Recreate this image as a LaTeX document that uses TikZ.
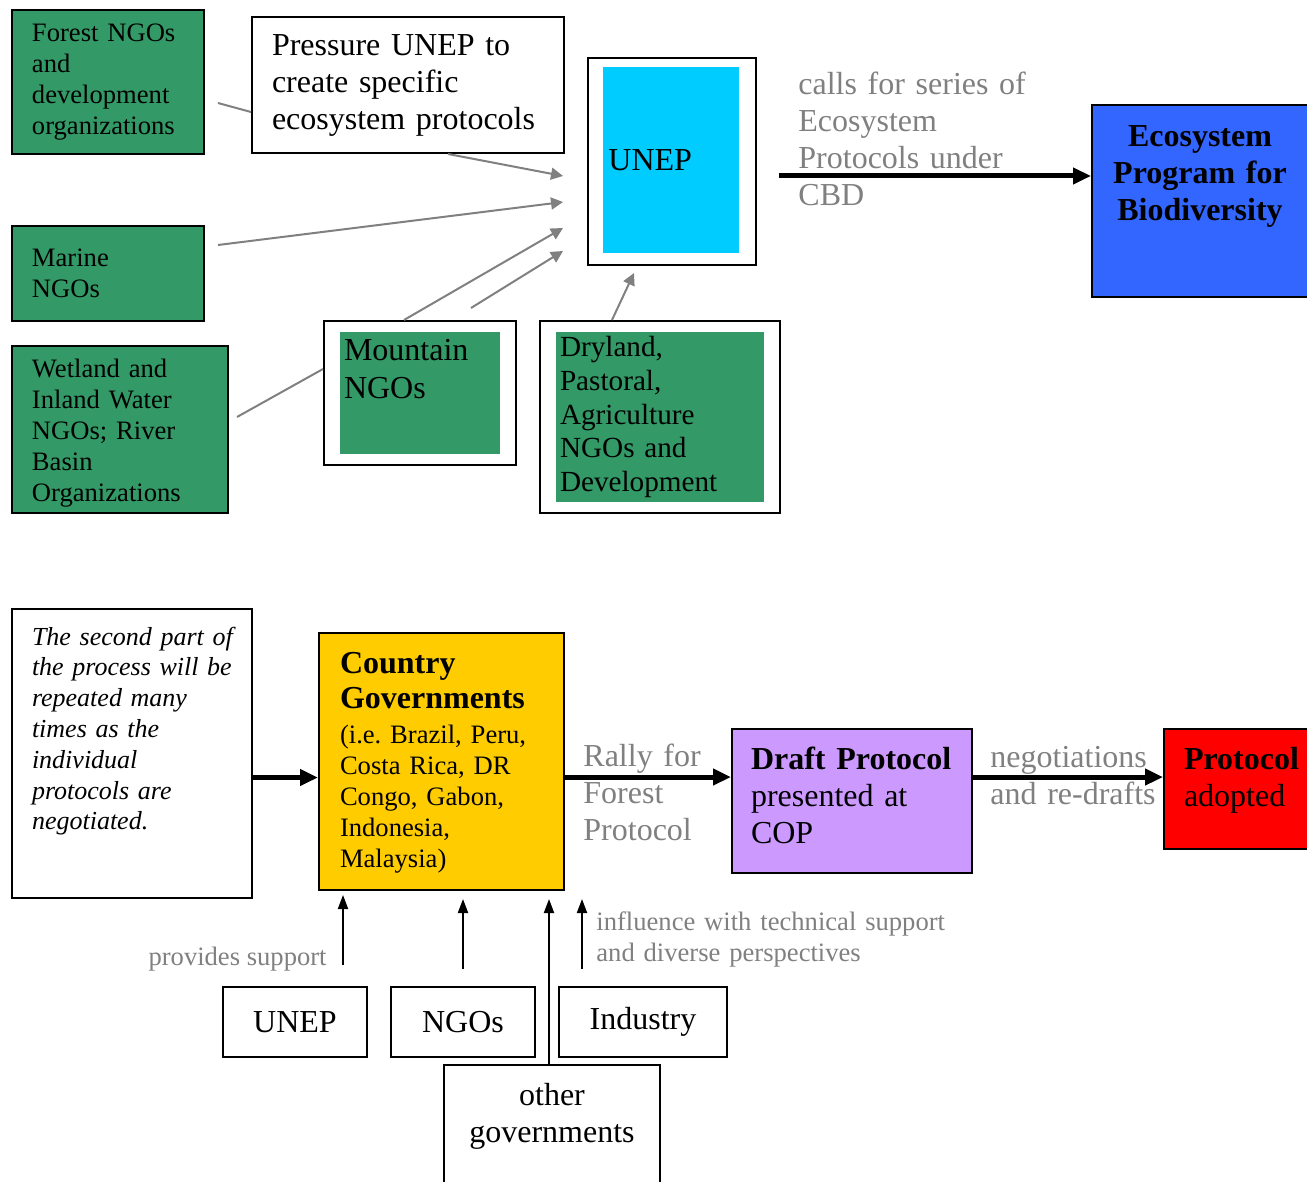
\documentclass[tikz,border=0pt]{standalone}
\usepackage{fontspec}
\setmainfont{Liberation Serif}
\frenchspacing
\usetikzlibrary{arrows.meta,positioning}
\definecolor{ngogreen}{HTML}{339966}
\definecolor{unepcyan}{HTML}{00CCFF}
\definecolor{progblue}{HTML}{3366FF}
\definecolor{govyellow}{HTML}{FFCC00}
\definecolor{draftviolet}{HTML}{CC99FF}
\definecolor{adoptedred}{HTML}{FF0000}
\definecolor{notegray}{HTML}{808080}
\newcommand{\bigsize}{\fontsize{16}{18.5}\selectfont}
\newcommand{\smallsize}{\fontsize{13.3}{15.5}\selectfont}
\tikzset{
  every node/.style={
    font=\bigsize
  },
  box/.style={
    draw=black,
    line width=1pt,
    anchor=north west,
    align=left,
    inner xsep=10pt,
    inner ysep=0pt
  },
  plain/.style={
    box,
    fill=white
  },
  ngo/.style={
    box,
    fill=ngogreen,
    font=\smallsize
  },
  topset/.style 2 args={
    inner ysep=#1,
    text height=11pt,
    text depth=#2
  },
  comment/.style={
    anchor=north west,
    inner sep=0pt,
    align=left,
    text=notegray,
    text height=11pt
  },
  flow/.style={
    draw=black,
    line width=2.5pt,
    -{Triangle[length=9pt,width=8pt]}
  },
  grayline/.style={
    draw=notegray,
    line width=1pt
  },
  grayarrow/.style={
    grayline,
    -{Triangle[length=6pt,width=6pt]}
  },
  support/.style={
    draw=black,
    line width=1pt,
    -{Triangle[length=7pt,width=5pt]}
  }
}
\begin{document}
\begin{tikzpicture}[x=0.5pt,y=-0.5pt]
\useasboundingbox (0,0) rectangle (1307,1182);

\node [ngo, text width=76pt, minimum height=72pt] (forest) at (11,9) {Forest NGOs\\and\\development\\organizations};
\node [plain, text width=136pt, minimum height=68pt] (pressure) at (251,16) {Pressure UNEP to\\create specific\\ecosystem protocols};
\node [plain, minimum width=84pt, minimum height=103.5pt] (unepframe) at (587,57) {};
\node [anchor=north west, fill=unepcyan, align=left, inner xsep=2.5pt, inner ysep=0pt,
  text width=63pt, minimum height=93pt] (unep) at (603,67) {UNEP};
\node [ngo, text width=76pt, minimum height=47.5pt] (marine) at (11,225) {Marine\\NGOs};
\node [ngo, text width=88pt, topset={5pt}{62.5pt}] (wetland) at (11,345) {Wetland and\\Inland Water\\NGOs; River\\Basin\\Organizations};
\node [plain, minimum width=96pt, minimum height=72pt] (mountainframe) at (323,320) {};
\node [ngo, draw=none, font=\bigsize, inner xsep=2pt, text width=76pt, topset={3.5pt}{43pt}] (mountain) at (339,331) {Mountain\\NGOs};
\node [plain, minimum width=120pt, minimum height=96pt] (drylandframe) at (539,320) {};
\node [ngo, draw=none, font=\fontsize{14.6}{16.85}\selectfont, inner xsep=2pt, text width=100pt,
  minimum height=85pt] (dryland) at (555,331) {Dryland,\\Pastoral,\\Agriculture\\NGOs and\\Development};
\node [box, fill=progblue, align=center, font=\bfseries\bigsize, text width=88pt, topset={10pt}{65pt}] (program) at (1091,104) {Ecosystem\\Program for\\Biodiversity};
\node [comment, text width=120pt] (calls) at (798,72) {calls for series of\\Ecosystem\\Protocols under\\CBD};

\coordinate (callsstart) at (779,176);
\coordinate (forestend) at (218,103);
\coordinate (marineend) at (218,245);
\coordinate (wetlandend) at (237,417);
\coordinate (mountaintail) at (471,308);
\coordinate (unepin1) at (563,176);
\coordinate (unepin2) at (563,202);
\coordinate (unepin3) at (563,228);
\coordinate (unepin4) at (563,251);
\coordinate (unepin5) at (634,273);

\draw [flow] (callsstart) -- (callsstart -| program.west);
\draw [grayline] (forestend) -- ([yshift=-13.5pt]pressure.west);
\draw [grayarrow] ([xshift=20pt]pressure.south) -- (unepin1);
\draw [grayarrow] (marineend) -- (unepin2);
\draw [grayarrow] ([xshift=-8pt]mountainframe.north) -- (unepin3);
\draw [grayarrow] (mountaintail) -- (unepin4);
\draw [grayline] (wetlandend) -- ([yshift=12pt]mountainframe.west);
\draw [grayarrow] ([xshift=-24pt]drylandframe.north) -- (unepin5);

\node [box, font=\itshape\fontsize{13}{15.4}\selectfont, inner xsep=8pt, text width=104pt, topset={7pt}{119.5pt}] (remark) at (11,608) {\hspace*{2pt}The second part of\\\hspace*{2pt}the process will be\\\hspace*{2pt}repeated many\\\hspace*{2pt}times as the\\\hspace*{2pt}individual\\\hspace*{2pt}protocols are\\\hspace*{2pt}negotiated.};
\node [box, fill=govyellow, font=\smallsize, inner xsep=10.5pt, text width=101.5pt, topset={9pt}{99.5pt}] (country) at (318,632) {\textbf{\bigsize Country}\\[2pt]\textbf{\bigsize Governments}\\[2pt](i.e. Brazil, Peru,\\Costa Rica, DR\\Congo, Gabon,\\Indonesia,\\Malaysia)};
\node [comment, text width=60pt] (rally) at (583,744) {Rally for\\Forest\\Protocol};
\node [box, fill=draftviolet, inner xsep=9.5pt, text width=101pt, topset={9pt}{43pt}] (draft) at (731,728) {\textbf{Draft Protocol}\\presented at\\COP};
\node [comment, text width=90pt] (talks) at (990,745) {negotiations\\and re-drafts};
\node [box, fill=adoptedred, text width=58pt, topset={9pt}{31pt}] (adopted) at (1163,728) {\textbf{Protocol}\\adopted};

\node [plain, align=center, minimum width=72pt, minimum height=35pt] (unepsupport) at (222,986) {UNEP};
\node [plain, align=center, minimum width=72pt, minimum height=35pt] (ngosupport) at (390,986) {NGOs};
\node [plain, align=center, minimum width=84pt, minimum height=35pt] (industry) at (558,986) {Industry};
\node [plain, align=center, text width=88pt, topset={9pt}{41pt}] (othergov) at (443,1064) {other\\governments};

\coordinate (remarkout) at ([yshift=-12pt]remark.east);
\coordinate (countryout) at ([yshift=-7.75pt]country.east);
\coordinate (draftout) at ([yshift=12pt]draft.east);
\coordinate (supportfoot) at (343,965);
\coordinate (influencefoot) at (582,969);
\coordinate (othergovtop) at ([xshift=-1.5pt]othergov.north);

\draw [flow] (remarkout) -- (remarkout -| country.west);
\draw [flow] (countryout) -- (countryout -| draft.west);
\draw [flow] (draftout) -- (draftout -| adopted.west);

\draw [support, shorten >=2pt] (supportfoot) -- (supportfoot |- country.south);
\draw [support, shorten >=4pt] ([yshift=8.5pt]ngosupport.north) -- (ngosupport.north |- country.south);
\draw [support, shorten >=4pt] (othergovtop) -- (othergovtop |- country.south);
\draw [support, shorten >=4pt] (influencefoot) -- (influencefoot |- country.south);

\node [comment, font=\smallsize, left=8pt of supportfoot, anchor=base east] (supportnote) {provides support};
\node [comment, font=\smallsize, text height=9.5pt, text width=180pt] (influencenote) at (596,911) {influence with technical support\\and diverse perspectives};

\end{tikzpicture}
\end{document}
